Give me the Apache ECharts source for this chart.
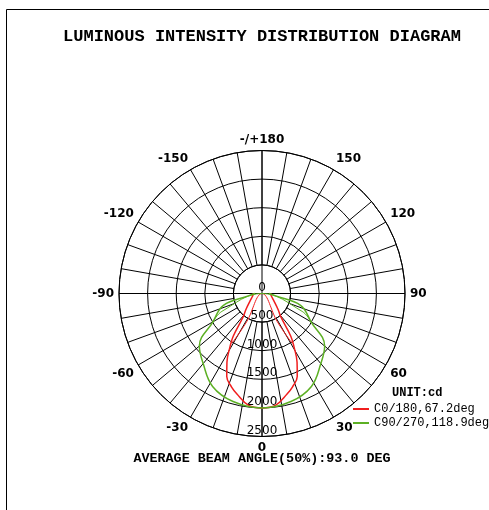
<!DOCTYPE html>
<html>
<head>
<meta charset="utf-8">
<script src="https://cdn.jsdelivr.net/npm/echarts@6/dist/echarts.min.js"></script>
<style>
html,body{margin:0;padding:0;background:#fff}
#main{width:489px;height:510px}
</style>
</head>
<body>
<div id="main"></div>
<script>
// gamma angle (0 = straight down, + to the right) and intensity in cd
const c0Angles = [-90, -75, -60, -45, -39, -34, -31, -27, -23, -18, -14, -7, 0, 7, 14, 18, 23, 27, 31, 34, 39, 45, 60, 75, 90]
const c0Values = [150, 169, 233, 400, 521, 900, 1085, 1350, 1577, 1720, 1810, 1965, 2000, 1965, 1810, 1720, 1577, 1350, 1085, 900, 521, 400, 233, 169, 150]
// inner trace of the same plane near the lamp
const c0InnerAngles = [-31, -28.5, 0, 28.5, 31]
const c0InnerValues = [1000, 560, 0, 560, 1000]

const c90Angles = [-90, -80, -73, -60, -50, -40, -28, -15, 0, 15, 28, 40, 50, 60, 73, 80, 90]
const c90Values = [120, 241, 705, 990, 1430, 1600, 1840, 1955, 2000, 1955, 1840, 1600, 1430, 990, 705, 241, 120]
const c90InnerAngles = [-60, -66, 0, 66, 60]
const c90InnerValues = [990, 767, 0, 767, 990]

const radiusTicks = [0, 500, 1000, 1500, 2000, 2500]
const seriesNames = ['C0/180,67.2deg', 'C90/270,118.9deg']
const red = '#f01e1e'
const green = '#5cb024'

const toPolar = (angles, values) => angles.map((g, i) => [values[i], g < 0 ? g + 360 : g])

const center = [262, 293.5]
const outerR = 143

const curve = (name, color, width, angles, values) => ({
  name: name,
  type: 'line',
  coordinateSystem: 'polar',
  polarIndex: 1,
  showSymbol: false,
  smooth: 0.4,
  color: color,
  lineStyle: { width: width, color: color },
  data: toPolar(angles, values)
})

const option = {
  animation: false,
  polar: [
    { center: center, radius: [outerR / 5, outerR] },
    { center: center, radius: [0, outerR] }
  ],
  angleAxis: [
    {
      polarIndex: 0,
      type: 'value', min: 0, max: 360, interval: 10,
      startAngle: -90, clockwise: false,
      axisLine: { lineStyle: { color: '#000', width: 1 } },
      axisTick: { show: false },
      splitLine: { show: true, lineStyle: { color: '#000', width: 1 } },
      axisLabel: {
        margin: 5,
        color: '#000',
        fontFamily: 'DejaVu Sans',
        fontSize: 12,
        fontWeight: 'bold',
        formatter: v => {
          if (v % 30 !== 0 || v === 360) return ''
          if (v === 180) return '-/+180'
          return String(v > 180 ? v - 360 : v)
        }
      }
    },
    {
      polarIndex: 1,
      type: 'value', min: 0, max: 360, interval: 90,
      startAngle: -90, clockwise: false,
      axisLine: { show: false },
      axisTick: { show: false },
      axisLabel: { show: false },
      splitLine: { show: true, lineStyle: { color: '#000', width: 1 } }
    }
  ],
  radiusAxis: [
    {
      polarIndex: 0,
      type: 'value', min: 500, max: 2500, interval: 500,
      axisLine: { show: false },
      axisTick: { show: false },
      axisLabel: { show: false },
      splitLine: { show: true, lineStyle: { color: '#000', width: 1 } }
    },
    {
      polarIndex: 1,
      type: 'value', min: radiusTicks[0], max: radiusTicks[radiusTicks.length - 1], interval: 500,
      axisLine: { show: false },
      axisTick: { show: false },
      splitLine: { show: false },
      axisLabel: {
        margin: 0,
        align: 'center',
        verticalAlign: 'bottom',
        showMaxLabel: true,
        color: '#000',
        fontFamily: 'DejaVu Sans',
        fontSize: 12,
        formatter: v => String(v)
      }
    }
  ],
  legend: {
    orient: 'vertical',
    left: 353,
    top: 403,
    padding: 0,
    itemWidth: 16,
    itemHeight: 2,
    itemGap: 2,
    icon: 'rect',
    data: seriesNames,
    textStyle: { fontFamily: 'Liberation Mono', fontSize: 12, color: '#000', lineHeight: 12 }
  },
  series: [
    curve(seriesNames[0], red, 1.5, c0Angles, c0Values),
    curve(seriesNames[0], red, 1, c0InnerAngles, c0InnerValues),
    curve(seriesNames[1], green, 1.5, c90Angles, c90Values),
    curve(seriesNames[1], green, 1, c90InnerAngles, c90InnerValues)
  ],
  graphic: [
    { type: 'line', shape: { x1: 6.5, y1: 9.5, x2: 489, y2: 9.5 }, style: { stroke: '#000', lineWidth: 1 } },
    { type: 'line', shape: { x1: 6.5, y1: 9.5, x2: 6.5, y2: 510 }, style: { stroke: '#000', lineWidth: 1 } },
    {
      type: 'text', x: 262, y: 37,
      style: { text: 'LUMINOUS INTENSITY DISTRIBUTION DIAGRAM', textAlign: 'center', textVerticalAlign: 'middle',
        font: 'bold 17px "Liberation Mono"', fill: '#000' }
    },
    {
      type: 'text', x: 392, y: 393,
      style: { text: 'UNIT:cd', textAlign: 'left', textVerticalAlign: 'middle',
        font: 'bold 12px "Liberation Mono"', fill: '#000' }
    },
    {
      type: 'text', x: 262, y: 459,
      style: { text: 'AVERAGE BEAM ANGLE(50%):93.0 DEG', textAlign: 'center', textVerticalAlign: 'middle',
        font: 'bold 13.4px "Liberation Mono"', fill: '#000' }
    }
  ]
}

const myChart = echarts.init(document.getElementById('main'))
myChart.setOption(option)
</script>
</body>
</html>
